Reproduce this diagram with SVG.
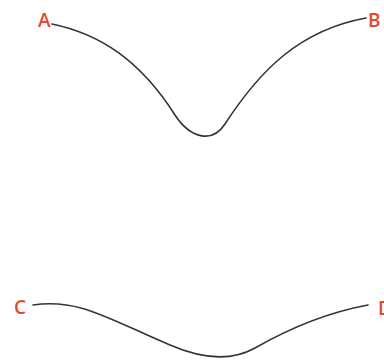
<svg xmlns="http://www.w3.org/2000/svg" width="384" height="361" viewBox="0 0 384 361">
<style>
.lbl{font-family:"Open Sans","Liberation Sans",Arial,sans-serif;font-size:19px;font-weight:600;fill:#e8472b;}
.cur{fill:none;stroke:#333;stroke-width:1.6;stroke-linecap:round;}
</style>
<rect width="384" height="361" fill="#fff"/>
<g id="connectors">
<path class="cur" d="M52,24 C100,34 140,60 175,115 C190,138 212,144 225,124 C260,70 300,30 366,18"/>
<path class="cur" d="M33,305 C80,298 110,320 170,345 C200,358 230,362 255,348 C290,328 330,312 368,305"/>
</g>
<g id="A"><text class="lbl" x="38" y="27">A</text></g>
<g id="B"><text class="lbl" x="368" y="27">B</text></g>
<g id="C"><text class="lbl" x="14" y="314">C</text></g>
<g id="D"><text class="lbl" x="378" y="315">D</text></g>
</svg>
